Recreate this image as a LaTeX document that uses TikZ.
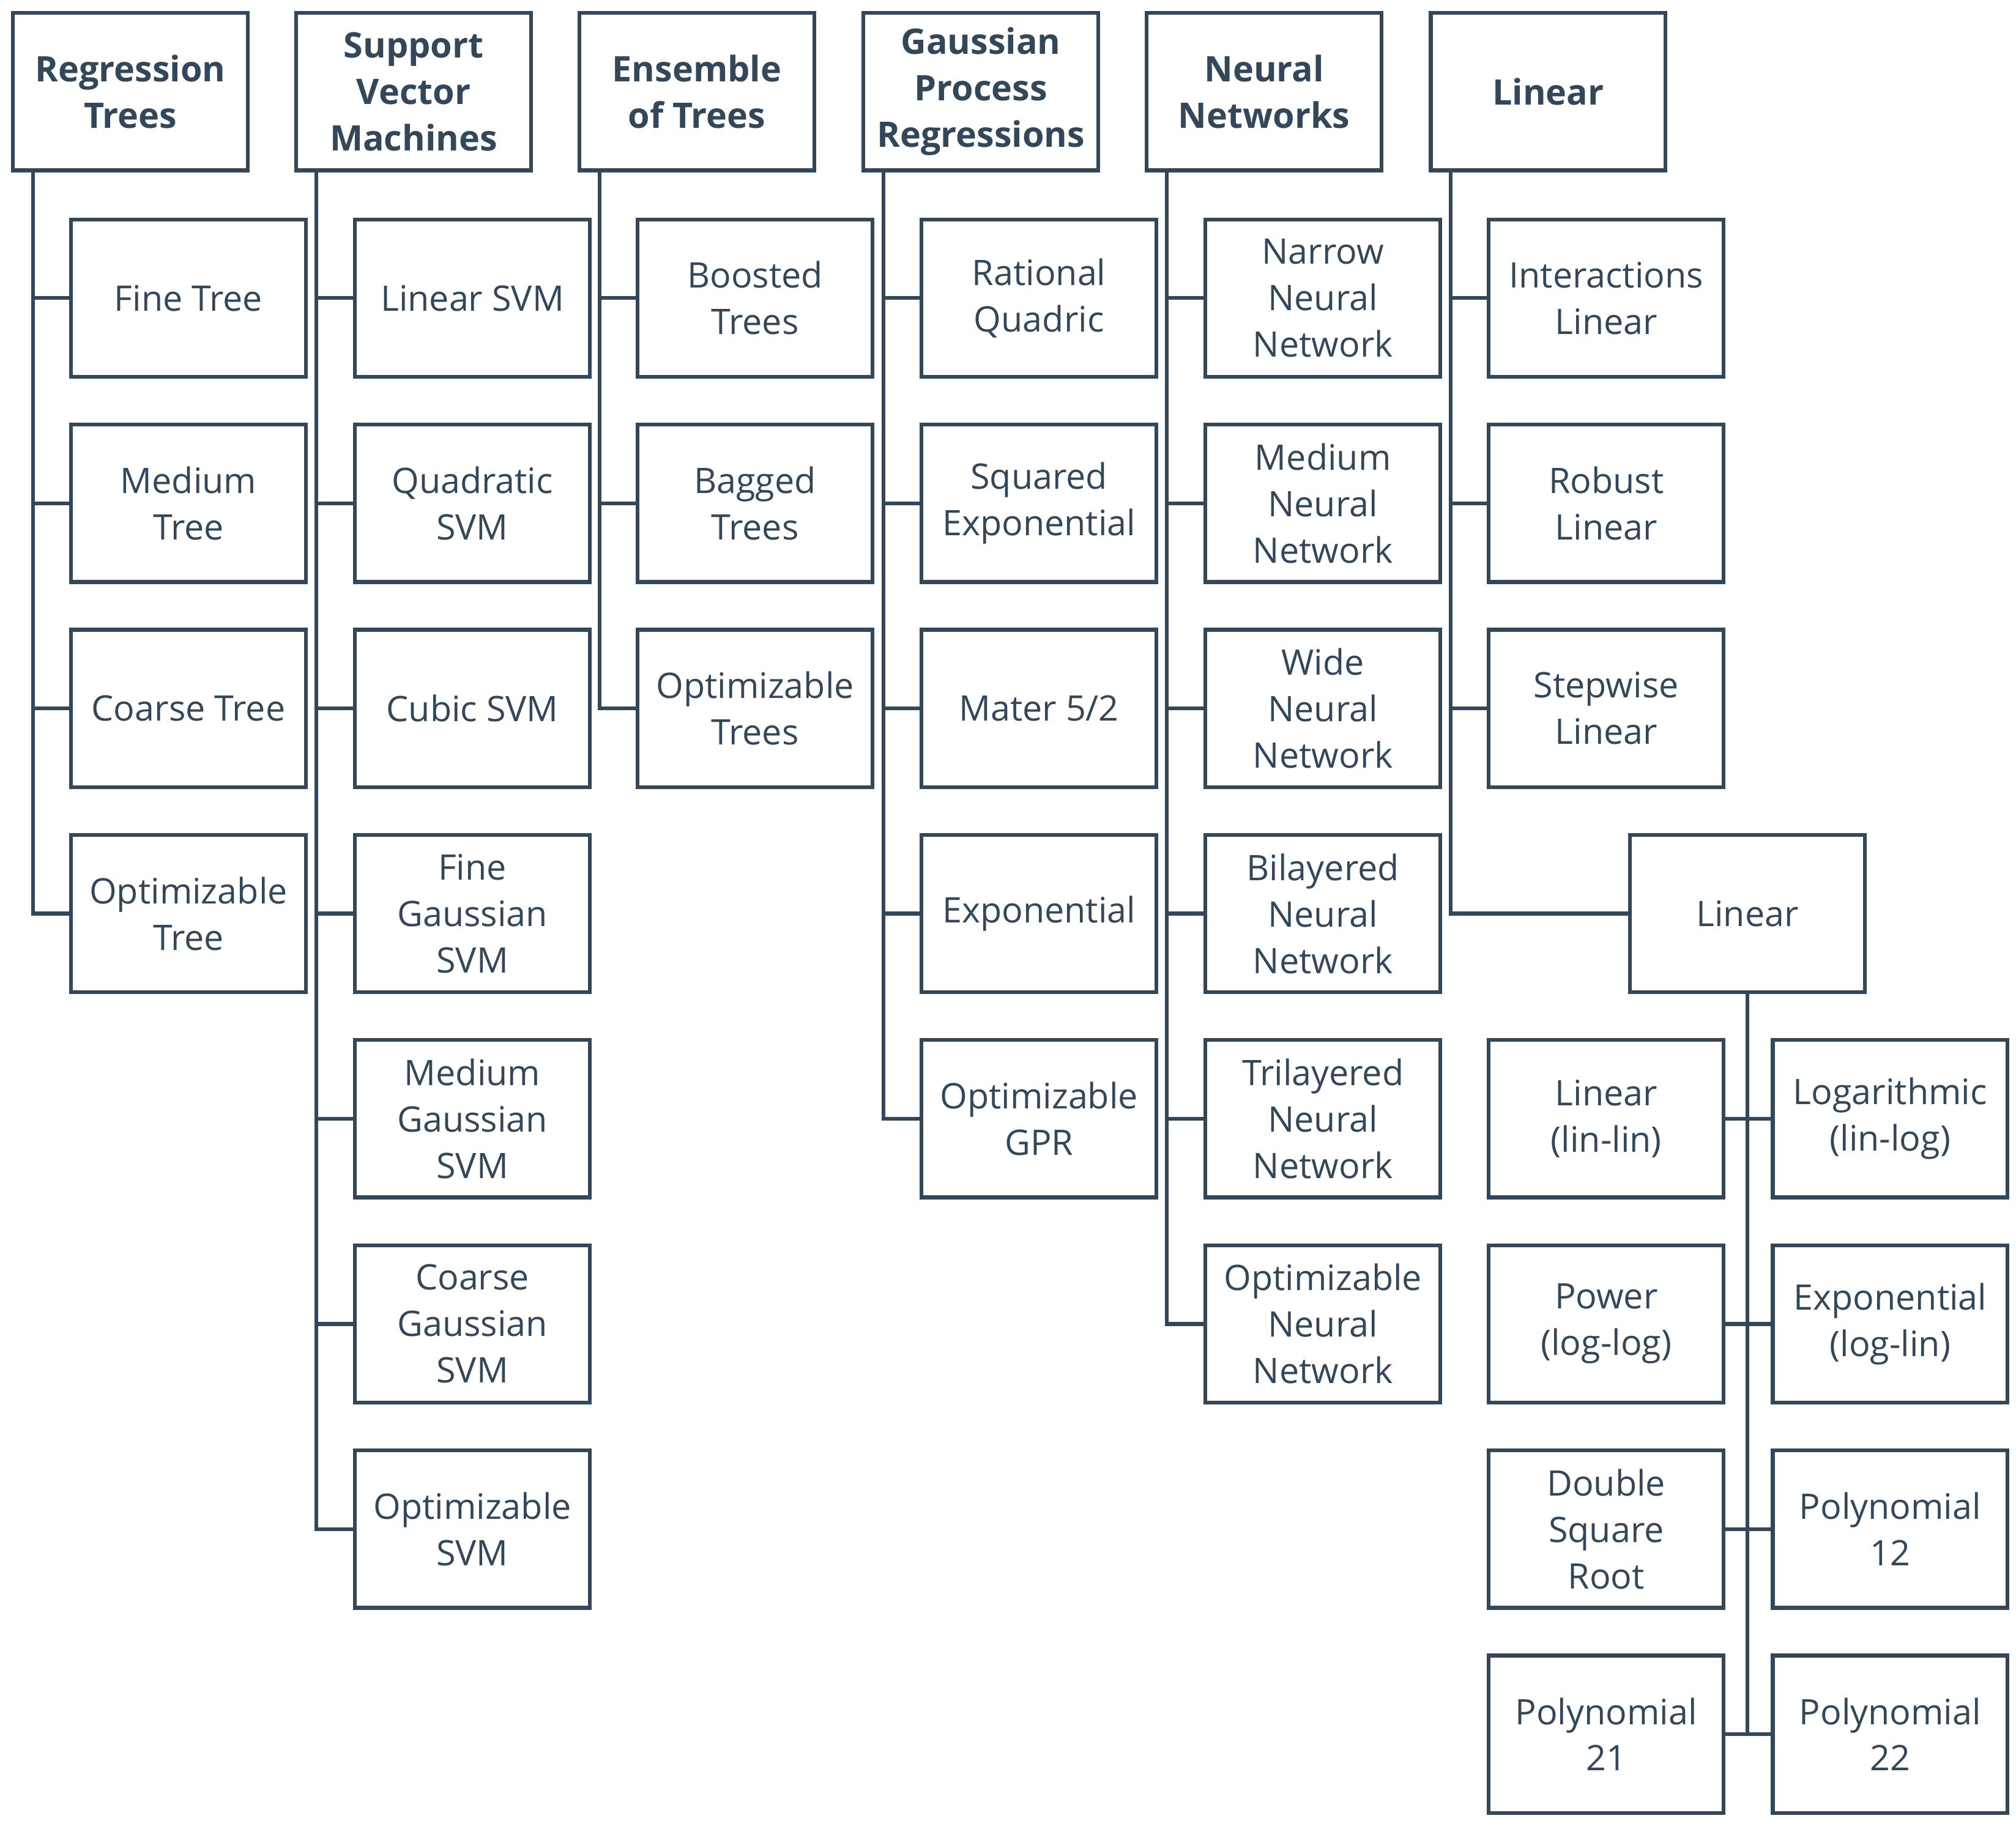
\documentclass[tikz,border=0pt]{standalone}
\usepackage{fontspec}
\setmainfont{Open Sans}
\begin{document}
\definecolor{ink}{HTML}{33475B}
\begin{tikzpicture}[x=0.02cm,y=-0.02cm,
 box/.style={draw=ink,line width=1.7pt,minimum width=3.64cm,minimum height=2.44cm,inner sep=0pt,align=center,text=ink,font=\fontsize{15.5}{20.5}\selectfont},
 hd/.style={box,font=\fontsize{15.5}{20.5}\selectfont\bfseries},
 ln/.style={draw=ink,line width=1.7pt}]
\useasboundingbox (0,0) rectangle (1562,1411);
% headers
\node[hd] (h1) at (101,71) {Regression\\Trees};
\node[hd] (h2) at (320.5,71) {Support\\Vector\\Machines};
\node[hd] (h3) at (540,71) {Ensemble\\of Trees};
\node[hd] (h4) at (760,71) {Gaussian\\Process\\Regressions};
\node[hd] (h5) at (979.5,71) {Neural\\Networks};
\node[hd] (h6) at (1199.5,71) {Linear};
% col1
\node[box] (a1) at (146,231) {Fine Tree};
\node[box] (a2) at (146,390) {Medium\\Tree};
\node[box] (a3) at (146,549) {Coarse Tree};
\node[box] (a4) at (146,708) {Optimizable\\Tree};
% col2
\node[box] (b1) at (366,231) {Linear SVM};
\node[box] (b2) at (366,390) {Quadratic\\SVM};
\node[box] (b3) at (366,549) {Cubic SVM};
\node[box] (b4) at (366,708) {Fine\\Gaussian\\SVM};
\node[box] (b5) at (366,867) {Medium\\Gaussian\\SVM};
\node[box] (b6) at (366,1026) {Coarse\\Gaussian\\SVM};
\node[box] (b7) at (366,1185) {Optimizable\\SVM};
% col3
\node[box] (c1) at (585,231) {Boosted\\Trees};
\node[box] (c2) at (585,390) {Bagged\\Trees};
\node[box] (c3) at (585,549) {Optimizable\\Trees};
% col4
\node[box] (d1) at (805,231) {Rational\\Quadric};
\node[box] (d2) at (805,390) {Squared\\Exponential};
\node[box] (d3) at (805,549) {Mater 5/2};
\node[box] (d4) at (805,708) {Exponential};
\node[box] (d5) at (805,867) {Optimizable\\GPR};
% col5
\node[box] (e1) at (1025,231) {Narrow\\Neural\\Network};
\node[box] (e2) at (1025,390) {Medium\\Neural\\Network};
\node[box] (e3) at (1025,549) {Wide\\Neural\\Network};
\node[box] (e4) at (1025,708) {Bilayered\\Neural\\Network};
\node[box] (e5) at (1025,867) {Trilayered\\Neural\\Network};
\node[box] (e6) at (1025,1026) {Optimizable\\Neural\\Network};
% col6
\node[box] (f1) at (1244.5,231) {Interactions\\Linear};
\node[box] (f2) at (1244.5,390) {Robust\\Linear};
\node[box] (f3) at (1244.5,549) {Stepwise\\Linear};
\node[box] (f4) at (1354,708) {Linear};
\node[box] (g1) at (1244.5,867) {Linear\\(lin-lin)};
\node[box] (g2) at (1464.5,867) {Logarithmic\\(lin-log)};
\node[box] (g3) at (1244.5,1026) {Power\\(log-log)};
\node[box] (g4) at (1464.5,1026) {Exponential\\(log-lin)};
\node[box] (g5) at (1244.5,1185) {Double\\Square\\Root};
\node[box] (g6) at (1464.5,1185) {Polynomial\\12};
\node[box] (g7) at (1244.5,1344) {Polynomial\\21};
\node[box] (g8) at (1464.5,1344) {Polynomial\\22};
% connectors
\foreach \h/\list in {h1/{a1,a2,a3,a4},h2/{b1,b2,b3,b4,b5,b6,b7},h3/{c1,c2,c3},h4/{d1,d2,d3,d4,d5},h5/{e1,e2,e3,e4,e5,e6},h6/{f1,f2,f3,f4}}
 \foreach \c in \list
  \draw[ln] ([xshift=0.34cm]\h.south west) |- (\c.west);
\foreach \c in {g1,g3,g5,g7} \draw[ln] (f4.south) |- (\c.east);
\foreach \c in {g2,g4,g6,g8} \draw[ln] (f4.south) |- (\c.west);
\end{tikzpicture}
\end{document}
